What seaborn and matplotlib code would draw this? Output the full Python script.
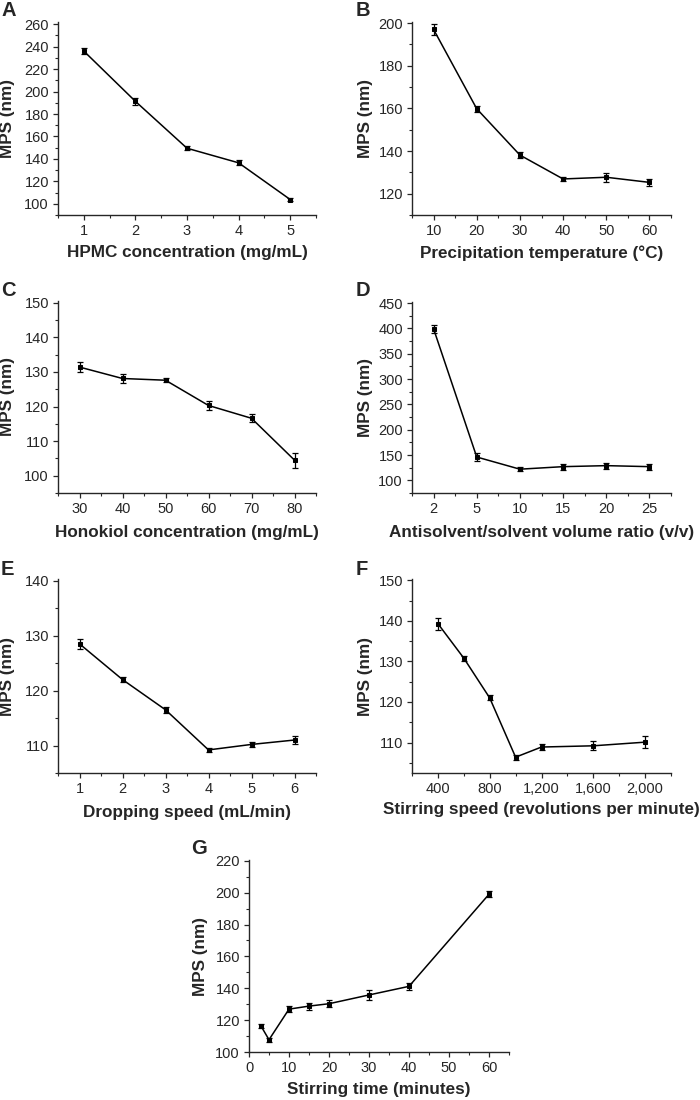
import numpy as np
import pandas as pd
import matplotlib
matplotlib.use("Agg")
import matplotlib.pyplot as plt
from matplotlib.ticker import MultipleLocator, FuncFormatter
import seaborn as sns

# data
hpmc_x = [1, 2, 3, 4, 5]
hpmc_y = [236.1, 191.3, 149.5, 136.5, 103.8]
hpmc_err = [2.5, 3.0, 1.8, 2.2, 1.6]

temp_x = [10, 20, 30, 40, 50, 60]
temp_y = [197.0, 159.8, 138.1, 126.9, 127.7, 125.3]
temp_err = [2.5, 1.5, 1.3, 1.1, 2.0, 1.7]

hon_x = [30, 40, 50, 60, 70, 80]
hon_y = [131.4, 128.1, 127.6, 120.3, 116.6, 104.5]
hon_err = [1.4, 1.4, 0.6, 1.2, 1.2, 2.2]

ratio_labels = ["2", "5", "10", "15", "20", "25"]
ratio_y = [399, 146, 122, 127, 129, 127]
ratio_err = [8, 8, 4, 6, 6, 6]

drop_x = [1, 2, 3, 4, 5, 6]
drop_y = [128.5, 122.0, 116.5, 109.2, 110.2, 111.0]
drop_err = [0.9, 0.5, 0.6, 0.4, 0.5, 0.8]

stir_x = [400, 600, 800, 1000, 1200, 1600, 2000]
stir_y = [139.3, 130.8, 121.0, 106.4, 108.9, 109.2, 110.1]
stir_err = [1.5, 0.6, 0.6, 0.6, 0.8, 1.1, 1.4]

time_x = [3, 5, 10, 15, 20, 30, 40, 60]
time_y = [116.3, 107.7, 126.9, 128.8, 130.3, 135.8, 141.2, 199.0]
time_err = [1.2, 1.3, 1.8, 2.2, 2.2, 3.0, 2.0, 2.0]

sns.set_style("ticks")
plt.rcParams['font.family'] = ['Liberation Sans', 'DejaVu Sans']

W, H = 700, 1100
fig = plt.figure(figsize=(7, 11), dpi=100)


def make_ax(left, right, top, bottom):
    return fig.add_axes([left / W, 1 - bottom / H, (right - left) / W, (bottom - top) / H])


def draw(ax, x, y, err, letter, xlabel, xlim, ylim, xmaj, xmin, ymaj, ymin,
         ylab_x=-0.16, xlab_y=-0.16, letter_xy=(0, 0)):
    df = pd.DataFrame({"x": x, "y": y})
    sns.lineplot(data=df, x="x", y="y", ax=ax, color="black", lw=1.1,
                 marker="s", markersize=3.5, markeredgecolor="black")
    ax.errorbar(x, y, yerr=err, fmt="none", ecolor="black", elinewidth=0.9,
                capsize=2.2, capthick=0.9)
    ax.set_xlim(*xlim)
    ax.set_ylim(*ylim)
    ax.xaxis.set_major_locator(MultipleLocator(xmaj))
    ax.xaxis.set_minor_locator(MultipleLocator(xmin))
    ax.yaxis.set_major_locator(MultipleLocator(ymaj))
    ax.yaxis.set_minor_locator(MultipleLocator(ymin))
    sns.despine(ax=ax)
    for s in ["left", "bottom"]:
        ax.spines[s].set_linewidth(1.0)
    ax.tick_params(which="major", direction="out", length=3.5, width=0.9, labelsize=10.5, pad=3)
    ax.tick_params(which="minor", direction="out", length=2, width=0.8)
    ax.set_xlabel(xlabel, fontsize=12.3, fontweight="bold")
    ax.set_ylabel("MPS (nm)", fontsize=12.3, fontweight="bold")
    ax.yaxis.set_label_coords(ylab_x, 0.5)
    ax.xaxis.set_label_coords(0.5, xlab_y)
    fig.text(letter_xy[0] / W, 1 - letter_xy[1] / H, letter, fontsize=14.5,
             fontweight="bold", ha="left", va="top")
    return ax


axA = make_ax(58, 316, 22, 215)
draw(axA, hpmc_x, hpmc_y, hpmc_err, "A", "HPMC concentration (mg/mL)",
     (0.5, 5.5), (90, 262), 1, 0.5, 20, 10, ylab_x=-0.165, xlab_y=-0.155, letter_xy=(1, 1))

axB = make_ax(412, 671, 22, 215)
draw(axB, temp_x, temp_y, temp_err, "B", "Precipitation temperature (\u00b0C)",
     (5, 65), (110, 200.5), 10, 5, 20, 10, ylab_x=-0.152, xlab_y=-0.16, letter_xy=(356, 1))

axC = make_ax(58, 316, 301, 493)
draw(axC, hon_x, hon_y, hon_err, "C", "Honokiol concentration (mg/mL)",
     (25, 85), (95, 150.5), 10, 5, 10, 5, ylab_x=-0.165, xlab_y=-0.165, letter_xy=(1, 281))

axD = make_ax(412, 671, 302, 493)
draw(axD, list(range(len(ratio_labels))), ratio_y, ratio_err, "D",
     "Antisolvent/solvent volume ratio (v/v)",
     (-0.5, 5.5), (75, 452), 1, 0.5, 50, 25, ylab_x=-0.152, xlab_y=-0.165, letter_xy=(356, 281))
axD.set_xticks(range(len(ratio_labels)))
axD.set_xticklabels(ratio_labels)

axE = make_ax(58, 316, 579, 773)
draw(axE, drop_x, drop_y, drop_err, "E", "Dropping speed (mL/min)",
     (0.5, 6.5), (105, 140.3), 1, 0.5, 10, 5, ylab_x=-0.165, xlab_y=-0.165, letter_xy=(1, 560))

axF = make_ax(412, 671, 579, 773)
draw(axF, stir_x, stir_y, stir_err, "F", "Stirring speed (revolutions per minute)",
     (200, 2200), (102.5, 150.3), 400, 200, 10, 5, ylab_x=-0.152, xlab_y=-0.15, letter_xy=(356, 560))
axF.xaxis.set_major_formatter(FuncFormatter(lambda v, p: f"{int(v):,}"))

axG = make_ax(249, 509, 860, 1052)
draw(axG, time_x, time_y, time_err, "G", "Stirring time (minutes)",
     (0, 65), (100, 220.5), 10, 5, 20, 10, ylab_x=-0.158, xlab_y=-0.155, letter_xy=(191, 839))

fig.savefig("out.png", dpi=100)
